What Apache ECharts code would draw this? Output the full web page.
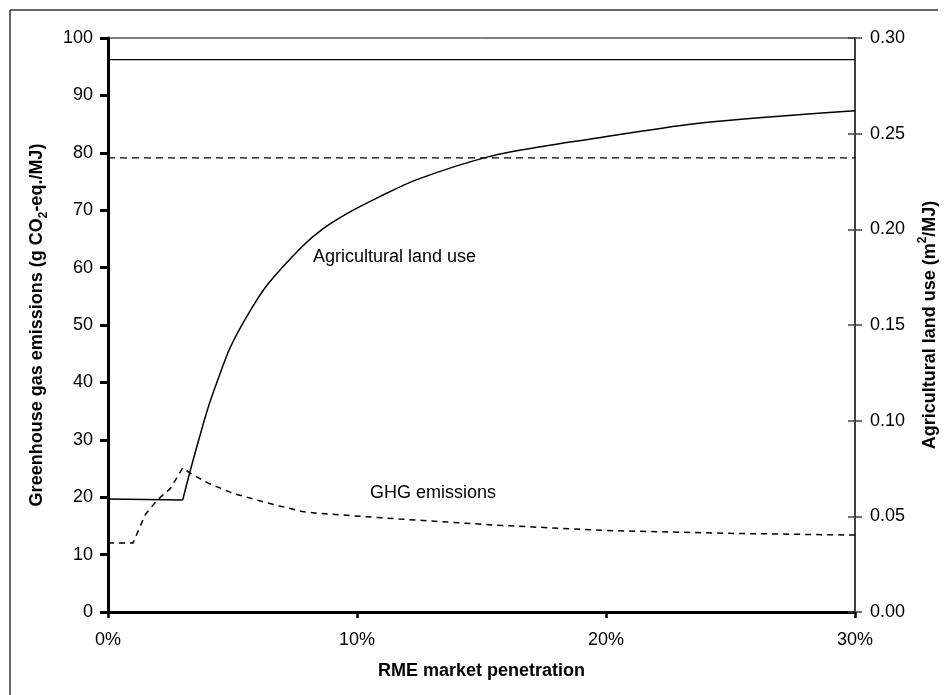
<!DOCTYPE html>
<html>
<head>
<meta charset="utf-8">
<title>RME market penetration</title>
<script src="https://cdn.jsdelivr.net/npm/echarts@6/dist/echarts.min.js"></script>
<style>
  html, body { margin: 0; padding: 0; background: #fff; }
  #chart { width: 947px; height: 695px; }
</style>
</head>
<body>
<div id="chart"></div>
<script>
// Market penetration of rapeseed methyl ester (percent)
const landUsePct = [0, 3.0, 3.4, 4.0, 4.4, 4.9, 5.6, 6.4, 7.8, 8.6, 9.7, 10.9, 12.4, 15.3, 17.75, 19.8, 23.8, 30];
// Agricultural land use, m2/MJ (right axis)
const landUse = [0.0591, 0.0585, 0.0785, 0.1060, 0.121, 0.138, 0.155, 0.171, 0.191, 0.200, 0.209, 0.217, 0.226, 0.238, 0.244, 0.248, 0.2556, 0.262];
// index where the land use curve starts to climb
const landUseBreak = 1;

const ghgPct = [0, 1.0, 1.5, 2.0, 2.5, 3.0, 3.3, 4.0, 5.0, 6.4, 7.8, 8.4, 11.7, 15.7, 20, 25, 30];
// Greenhouse gas emissions, g CO2-eq./MJ (left axis)
const ghg = [12.0, 12.0, 17.0, 19.6, 21.5, 25.1, 24.2, 22.5, 20.7, 19.0, 17.5, 17.2, 16.2, 15.1, 14.2, 13.7, 13.4];

// Reference levels drawn across the full range
const refPct = [0, 30];
const fossilGhg = 79.1;      // g CO2-eq./MJ
const refLandUse = 0.2887;   // m2/MJ

const xTicks = [0, 10, 20, 30];

const FONT = '"Liberation Sans", Arial, sans-serif';
const pairs = (xs, ys) => xs.map((x, i) => [x, ys[i]]);
const landUsePoints = pairs(landUsePct, landUse);

const chart = echarts.init(document.getElementById('chart'), null, { renderer: 'canvas' });

const solidBlack = { color: '#000', width: 1.5, type: 'solid' };

chart.setOption({
  animation: false,
  backgroundColor: '#fff',
  grid: {
    left: 108, right: 92, top: 38, bottom: 83,
    outerBoundsMode: 'none', containLabel: false,
    show: true, borderColor: '#000', borderWidth: 1, backgroundColor: 'transparent'
  },
  xAxis: {
    type: 'value',
    min: xTicks[0], max: xTicks[xTicks.length - 1], interval: 10,
    name: 'RME market penetration',
    nameLocation: 'middle',
    nameGap: 50,
    nameTextStyle: { fontFamily: FONT, fontSize: 18, fontWeight: 'bold', color: '#000' },
    axisLine: { show: true, lineStyle: { color: '#000', width: 3 } },
    axisTick: { show: true, length: 6, lineStyle: { color: '#000', width: 2.5 } },
    axisLabel: { formatter: '{value}%', margin: 19, fontFamily: FONT, fontSize: 18, color: '#000' },
    splitLine: { show: false }
  },
  yAxis: [
    {
      type: 'value', position: 'left',
      min: 0, max: 100, interval: 10,
      name: 'Greenhouse gas emissions (g CO{sub|2}-eq./MJ)',
      nameLocation: 'middle', nameRotate: 90, nameGap: 58,
      nameTextStyle: {
        fontFamily: FONT, fontSize: 18, fontWeight: 'bold', color: '#000', lineHeight: 26,
        rich: { sub: { fontFamily: FONT, fontSize: 12, fontWeight: 'bold', color: '#000', verticalAlign: 'bottom', lineHeight: 12 } }
      },
      axisLine: { show: true, lineStyle: { color: '#000', width: 3 } },
      axisTick: { show: true, length: 8, lineStyle: { color: '#000', width: 3 } },
      axisLabel: { margin: 15, fontFamily: FONT, fontSize: 18, color: '#000' },
      splitLine: { show: false }
    },
    {
      type: 'value', position: 'right',
      min: 0, max: 0.3, interval: 0.05,
      name: 'Agricultural land use (m{sup|2}/MJ)',
      nameLocation: 'middle', nameRotate: 90, nameGap: 62,
      nameTextStyle: {
        fontFamily: FONT, fontSize: 18, fontWeight: 'bold', color: '#000', lineHeight: 26,
        rich: { sup: { fontFamily: FONT, fontSize: 12, fontWeight: 'bold', color: '#000', verticalAlign: 'top', lineHeight: 12 } }
      },
      axisLine: { show: true, lineStyle: { color: '#404040', width: 2 } },
      axisTick: { show: true, length: 7, lineStyle: { color: '#404040', width: 1.5 } },
      axisLabel: { margin: 15, fontFamily: FONT, fontSize: 18, color: '#000', formatter: v => v.toFixed(2) },
      splitLine: { show: false }
    },
    {
      // inner half of the crossing ticks on the right axis
      type: 'value', position: 'right',
      min: 0, max: 0.3, interval: 0.05,
      axisLine: { show: false },
      axisTick: { show: true, inside: true, length: 7, lineStyle: { color: '#404040', width: 1.5 } },
      axisLabel: { show: false },
      splitLine: { show: false }
    }
  ],
  series: [
    {
      // flat part before the climb
      name: 'Agricultural land use', type: 'line', yAxisIndex: 1,
      data: landUsePoints.slice(0, landUseBreak + 1),
      showSymbol: false, smooth: false,
      lineStyle: solidBlack
    },
    {
      name: 'Agricultural land use', type: 'line', yAxisIndex: 1,
      data: landUsePoints.slice(landUseBreak),
      showSymbol: false, smooth: 0.3,
      lineStyle: solidBlack
    },
    {
      name: 'GHG emissions', type: 'line', yAxisIndex: 0,
      data: pairs(ghgPct, ghg),
      showSymbol: false, smooth: false,
      lineStyle: { color: '#000', width: 1.5, type: [6, 5] }
    },
    {
      name: 'Reference land use', type: 'line', yAxisIndex: 1,
      data: pairs(refPct, [refLandUse, refLandUse]),
      showSymbol: false,
      lineStyle: { color: '#000', width: 1.3, type: 'solid' }
    },
    {
      name: 'Fossil diesel GHG', type: 'line', yAxisIndex: 0,
      data: pairs(refPct, [fossilGhg, fossilGhg]),
      showSymbol: false,
      lineStyle: { color: '#000', width: 1.3, type: [7, 5] }
    }
  ],
  graphic: [
    { type: 'line', shape: { x1: 10, y1: 10, x2: 938, y2: 10 }, style: { stroke: '#333', lineWidth: 1.5 }, silent: true },
    { type: 'line', shape: { x1: 10, y1: 10, x2: 10, y2: 695 }, style: { stroke: '#333', lineWidth: 1.5 }, silent: true },
    { type: 'text', left: 313, top: 248, silent: true,
      style: { text: 'Agricultural land use', font: '18px ' + FONT, fill: '#000' } },
    { type: 'text', left: 370, top: 484, silent: true,
      style: { text: 'GHG emissions', font: '18px ' + FONT, fill: '#000' } }
  ]
});
</script>
</body>
</html>
